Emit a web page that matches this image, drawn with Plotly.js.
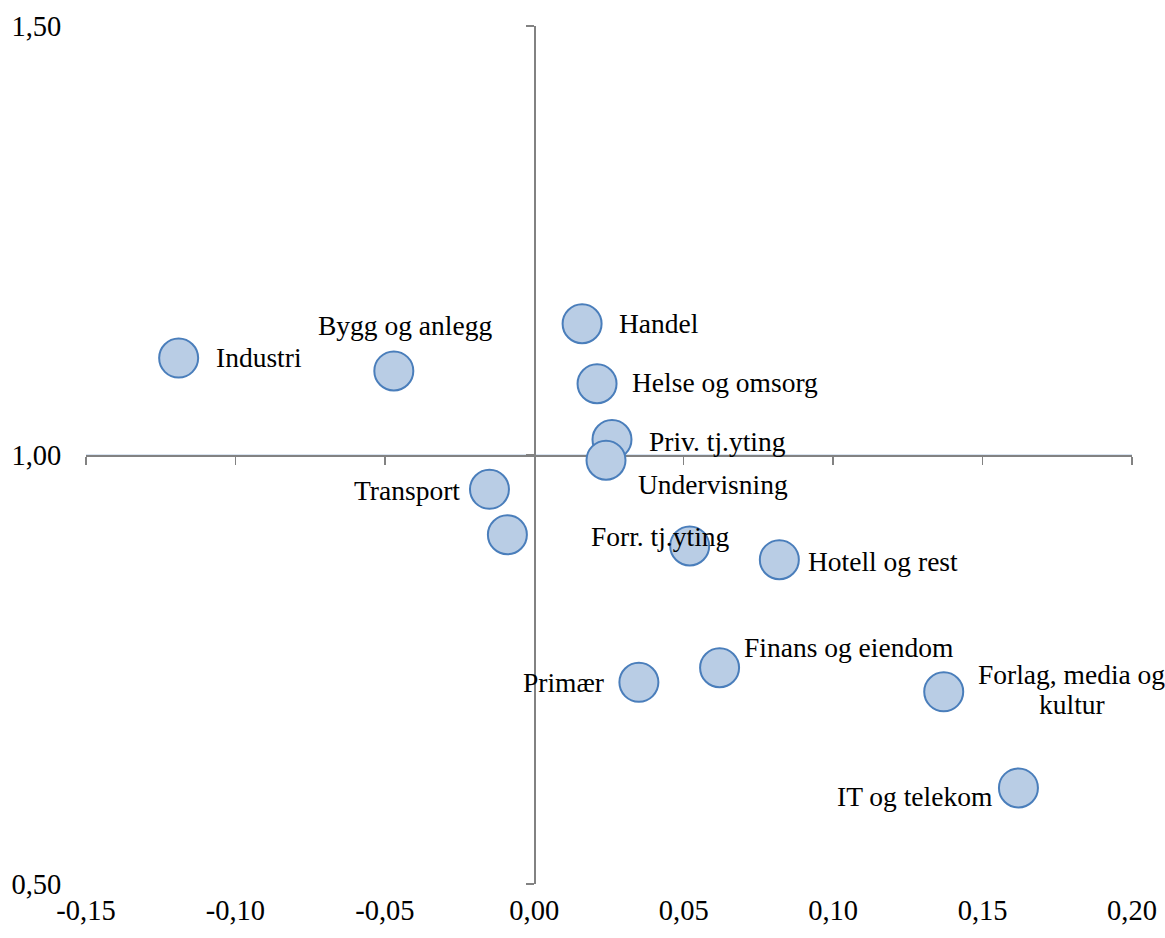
<!DOCTYPE html>
<html>
<head>
<meta charset="utf-8">
<script src="https://cdn.plot.ly/plotly-3.0.1.min.js"></script>
<style>
  html, body { margin: 0; padding: 0; background: #ffffff; }
  #chart { width: 1165px; height: 938px; }
</style>
</head>
<body>
<div id="chart"></div>
<script>
// ---- data ----
const sectors = ["Industri", "Bygg og anlegg", "Handel", "Helse og omsorg", "Priv. tj.yting",
  "Undervisning", "Transport", "", "Forr. tj.yting", "Hotell og rest",
  "Finans og eiendom", "Primær", "Forlag, media og<br>kultur", "IT og telekom"];
const xValues = [-0.119, -0.047, 0.016, 0.021, 0.026,
  0.024, -0.015, -0.009, 0.052, 0.082,
  0.062, 0.035, 0.137, 0.162];
const yValues = [1.113, 1.098, 1.153, 1.083, 1.018,
  0.994, 0.960, 0.907, 0.894, 0.878,
  0.752, 0.735, 0.724, 0.612];
const xRange = [-0.15, 0.20];
const yRange = [0.50, 1.50];
const xTickValues = [-0.15, -0.10, -0.05, 0.00, 0.05, 0.10, 0.15, 0.20];
const xTickLabels = ["-0,15", "-0,10", "-0,05", "0,00", "0,05", "0,10", "0,15", "0,20"];
const yTickValues = [0.50, 1.00, 1.50];
const yTickLabels = ["0,50", "1,00", "1,50"];

// ---- label placement (style only) ----
const labelAnchor = ["left", "center", "left", "left", "left",
  "left", "right", "left", "center", "left",
  "left", "right", "center", "right"];
const labelDx = [35, 11, 35, 33, 35, 30, -27, 0, -29, 27, 22, -33, 128, -24];
const labelDy = [1, 45, 0, 1, -2, -24, -1, 0, 9, -2, 20, 0, 2, -9];
const lineGap = 30;

const serif = "Liberation Serif, Times New Roman, serif";
const axisGray = "#828282";

const annotations = [];
sectors.forEach((name, i) => {
  if (!name) return;
  const lines = name.split("<br>");
  lines.forEach((line, k) => {
    const off = ((lines.length - 1) / 2 - k) * lineGap;
    annotations.push({
      x: xValues[i], y: yValues[i], xref: "x2", yref: "y2",
      text: line, showarrow: false,
      xanchor: labelAnchor[i], yanchor: "middle", align: "center",
      xshift: labelDx[i], yshift: labelDy[i] + off,
      font: { family: serif, size: 27.5, color: "#000000" }
    });
  });
});

const traces = [
  { // anchors the main (label/grid) axes
    type: "scatter", mode: "none", x: xValues, y: yValues,
    xaxis: "x", yaxis: "y", hoverinfo: "skip", showlegend: false
  },
  {
    type: "scatter", mode: "markers", x: xValues, y: yValues, text: sectors,
    xaxis: "x2", yaxis: "y2", showlegend: false, cliponaxis: false,
    marker: { size: 39, color: "#b9cde5", line: { color: "#4a7ebb", width: 2 } }
  }
];

const yAxisPos = (0 - xRange[0]) / (xRange[1] - xRange[0]);
const xAxisPos = (1 - yRange[0]) / (yRange[1] - yRange[0]);

const layout = {
  width: 1165, height: 938,
  margin: { l: 86, r: 33, t: 26, b: 54 },
  paper_bgcolor: "#ffffff", plot_bgcolor: "#ffffff",
  showlegend: false,
  font: { family: serif, size: 28, color: "#000000" },
  xaxis: {
    range: xRange, tickmode: "array", tickvals: xTickValues, ticktext: xTickLabels,
    showgrid: false, zeroline: false, showline: false,
    ticks: "outside", ticklen: 1, tickcolor: "rgba(0,0,0,0)",
    tickfont: { family: serif, size: 28.5, color: "#000000" },
    fixedrange: true
  },
  yaxis: {
    range: yRange, tickmode: "array", tickvals: yTickValues, ticktext: yTickLabels,
    showgrid: true, gridcolor: "#d9e4f1", gridwidth: 1.5,
    zeroline: false, showline: false,
    ticks: "outside", ticklen: 18, tickcolor: "rgba(0,0,0,0)",
    tickfont: { family: serif, size: 28.5, color: "#000000" },
    fixedrange: true
  },
  xaxis2: {
    overlaying: "x", anchor: "free", position: xAxisPos, side: "bottom",
    range: xRange, tickmode: "array", tickvals: xTickValues,
    showgrid: false, zeroline: false, showticklabels: false,
    showline: true, linecolor: axisGray, linewidth: 1.5,
    ticks: "outside", ticklen: 8, tickwidth: 1.5, tickcolor: axisGray,
    layer: "below traces", fixedrange: true
  },
  yaxis2: {
    overlaying: "y", anchor: "free", position: yAxisPos, side: "left",
    range: yRange, tickmode: "array", tickvals: yTickValues,
    showgrid: false, zeroline: false, showticklabels: false,
    showline: true, linecolor: axisGray, linewidth: 1.5,
    ticks: "outside", ticklen: 8, tickwidth: 1.5, tickcolor: axisGray,
    layer: "below traces", fixedrange: true
  },
  annotations: annotations
};

Plotly.newPlot("chart", traces, layout, { displayModeBar: false, staticPlot: true });
</script>
</body>
</html>
